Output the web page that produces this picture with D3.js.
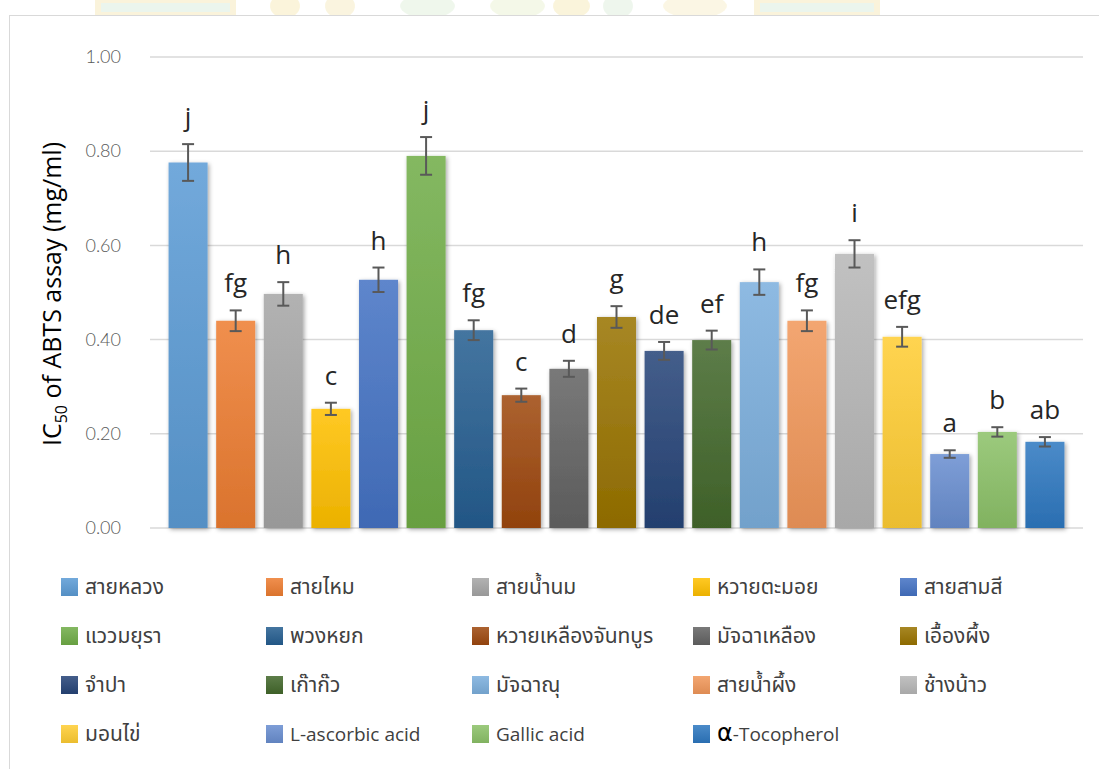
<!DOCTYPE html>
<html>
<head>
<meta charset="utf-8">
<script src="https://cdn.jsdelivr.net/npm/d3@7"></script>
<style>
  html, body { margin: 0; padding: 0; background: #fff; }
  svg { display: block; }
</style>
</head>
<body>
<svg id="chart" width="1099" height="769"></svg>
<script>
// IC50 values of the ABTS assay (mg/ml) per sample, with SD and significance letters
const categories = [
  "สายหลวง", "สายไหม", "สายน้ำนม", "หวายตะมอย", "สายสามสี",
  "แววมยุรา", "พวงหยก", "หวายเหลืองจันทบูร", "มัจฉาเหลือง", "เอื้องผึ้ง",
  "จำปา", "เก๊าก๊ว", "มัจฉาณุ", "สายน้ำผึ้ง", "ช้างน้าว",
  "มอนไข่", "L-ascorbic acid", "Gallic acid", "α-Tocopherol"
];
const ic50 = [
  0.776, 0.440, 0.497, 0.253, 0.527,
  0.790, 0.420, 0.282, 0.338, 0.448,
  0.376, 0.399, 0.522, 0.440, 0.582,
  0.406, 0.157, 0.204, 0.183
];
const sd = [
  0.039, 0.022, 0.025, 0.013, 0.026,
  0.040, 0.021, 0.014, 0.017, 0.023,
  0.019, 0.020, 0.027, 0.022, 0.029,
  0.021, 0.008, 0.010, 0.010
];
const letters = [
  "j", "fg", "h", "c", "h",
  "j", "fg", "c", "d", "g",
  "de", "ef", "h", "fg", "i",
  "efg", "a", "b", "ab"
];
const barColors = [
  "#5B9BD5", "#ED7D31", "#A5A5A5", "#FFC000", "#4472C4",
  "#70AD47", "#255E91", "#9E480E", "#636363", "#997300",
  "#264478", "#43682B", "#7CAFDD", "#F1975A", "#B7B7B7",
  "#FFCD33", "#698ED0", "#8CC168", "#2E78C0"
];
const yTicks = [0, 0.2, 0.4, 0.6, 0.8, 1.0];

const thaiFont = "'Noto Sans Thai', 'Leelawadee UI', Tahoma, 'Noto Sans', 'DejaVu Sans', sans-serif";
const svg = d3.select("#chart");

// faint document watermark peeking above the chart frame
const wm = svg.append("g").attr("opacity", 0.4);
[[98, 135, "#cfe8d4"], [757, 120, "#cfe8d4"]].forEach(([x, w, c]) => {
  wm.append("rect").attr("x", x).attr("y", 0).attr("width", w).attr("height", 15)
    .attr("fill", c).attr("stroke", "#f3e3a6").attr("stroke-width", 6);
});
[[270, 30, "#f6e6a8"], [325, 30, "#f3e6b0"], [400, 55, "#d9ecd2"], [490, 55, "#e6efc8"],
 [553, 37, "#f4e5a8"], [603, 30, "#d6ead3"], [663, 64, "#f6ebbd"]].forEach(([x, w, c]) => {
  wm.append("ellipse").attr("cx", x + w / 2).attr("cy", 6).attr("rx", w / 2).attr("ry", 12)
    .attr("fill", c);
});

// chart frame
svg.append("rect").attr("x", 9.5).attr("y", 15.5).attr("width", 1110).attr("height", 780)
  .attr("fill", "#fff").attr("stroke", "#d9d9d9").attr("stroke-width", 1);

const defs = svg.append("defs");
const shadow = defs.append("filter").attr("id", "barShadow")
  .attr("x", "-20%").attr("y", "-5%").attr("width", "150%").attr("height", "115%");
shadow.append("feDropShadow").attr("dx", 1.5).attr("dy", 1.5).attr("stdDeviation", 2)
  .attr("flood-color", "#000").attr("flood-opacity", 0.35);

barColors.forEach((c, i) => {
  const g = defs.append("linearGradient").attr("id", "grad" + i)
    .attr("x1", 0).attr("y1", 0).attr("x2", 0).attr("y2", 1);
  g.append("stop").attr("offset", "0%").attr("stop-color", d3.interpolateRgb(c, "#ffffff")(0.14));
  g.append("stop").attr("offset", "100%").attr("stop-color", d3.interpolateRgb(c, "#000000")(0.08));
});

const x = d3.scaleBand().domain(categories).range([150, 1083])
  .paddingInner(0.18).paddingOuter(0.39);
const y = d3.scaleLinear().domain([0, 1]).range([528, 57]);

// gridlines
svg.append("g").selectAll("line").data(yTicks).join("line")
  .attr("x1", 150).attr("x2", 1083)
  .attr("y1", d => y(d)).attr("y2", d => y(d))
  .attr("stroke", "#d9d9d9").attr("stroke-width", 1.5);

// y axis tick labels
const yAxis = d3.axisLeft(y).tickValues(yTicks).tickFormat(d3.format(".2f")).tickSize(0).tickPadding(0);
const ya = svg.append("g").attr("transform", "translate(121,0)").call(yAxis);
ya.select(".domain").remove();
ya.selectAll("text").attr("font-family", "Lato, 'Liberation Sans', sans-serif")
  .attr("font-weight", 300).attr("font-size", 18).attr("fill", "#595959");

// y axis title
const title = svg.append("text")
  .attr("transform", "translate(61,294) rotate(-90)")
  .attr("text-anchor", "middle")
  .attr("font-family", "'Open Sans', 'Noto Sans', sans-serif")
  .attr("font-size", 25).attr("fill", "#000");
title.append("tspan").text("IC");
title.append("tspan").attr("font-size", 16).attr("dy", 6).text("50");
title.append("tspan").attr("dy", -6).text(" of ABTS assay (mg/ml)");

// bars
svg.append("g").selectAll("rect").data(categories).join("rect")
  .attr("x", d => x(d))
  .attr("width", x.bandwidth())
  .attr("y", (d, i) => y(ic50[i]))
  .attr("height", (d, i) => y(0) - y(ic50[i]))
  .attr("fill", (d, i) => `url(#grad${i})`)
  .attr("filter", "url(#barShadow)");

// error bars
const eb = svg.append("g").attr("stroke", "#595959").attr("stroke-width", 2);
categories.forEach((d, i) => {
  const cx = x(d) + x.bandwidth() / 2;
  const top = y(ic50[i] + sd[i]), bot = y(ic50[i] - sd[i]);
  eb.append("line").attr("x1", cx).attr("x2", cx).attr("y1", top).attr("y2", bot);
  eb.append("line").attr("x1", cx - 6).attr("x2", cx + 6).attr("y1", top).attr("y2", top);
  eb.append("line").attr("x1", cx - 6).attr("x2", cx + 6).attr("y1", bot).attr("y2", bot);
});

// significance letters
svg.append("g").selectAll("text").data(categories).join("text")
  .attr("x", d => x(d) + x.bandwidth() / 2)
  .attr("y", (d, i) => y(ic50[i] + sd[i]) - 18)
  .attr("text-anchor", "middle")
  .attr("font-family", "'Open Sans', 'Noto Sans', sans-serif")
  .attr("font-size", 26).attr("fill", "#262626")
  .text((d, i) => letters[i]);

// legend: 5 columns x 4 rows
const colX = [61, 266, 472, 693, 900];
const rowY = [578, 627, 676, 725];
const legend = svg.append("g");
categories.forEach((d, i) => {
  const lx = colX[i % 5], ly = rowY[Math.floor(i / 5)];
  const item = legend.append("g").attr("transform", `translate(${lx},${ly})`);
  item.append("rect").attr("width", 17).attr("height", 18).attr("fill", `url(#grad${i})`);
  const t = item.append("text").attr("x", 24).attr("y", 16)
    .attr("font-family", thaiFont).attr("font-size", 21).attr("fill", "#404040");
  if (d.startsWith("α")) {
    t.append("tspan").attr("font-family", "'DejaVu Sans', sans-serif").attr("font-size", 24)
      .attr("fill", "#000").text("α");
    t.append("tspan").attr("font-family", "'Open Sans', sans-serif").attr("font-size", 19).text(d.slice(1));
  } else if (/^[A-Za-z]/.test(d)) {
    t.attr("font-family", "'Open Sans', sans-serif").attr("font-size", 19).text(d);
  } else {
    t.text(d);
  }
});
</script>
</body>
</html>
